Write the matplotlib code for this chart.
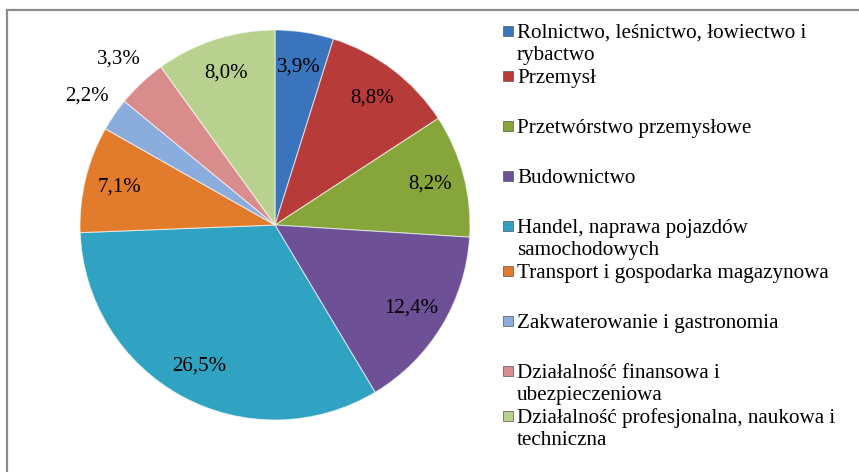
import matplotlib
matplotlib.use("Agg")
import matplotlib.pyplot as plt
import numpy as np
from matplotlib.patches import Rectangle

# Data
categories = [
    "Rolnictwo, leśnictwo, łowiectwo i\nrybactwo",
    "Przemysł",
    "Przetwórstwo przemysłowe",
    "Budownictwo",
    "Handel, naprawa pojazdów\nsamochodowych",
    "Transport i gospodarka magazynowa",
    "Zakwaterowanie i gastronomia",
    "Działalność finansowa i\nubezpieczeniowa",
    "Działalność profesjonalna, naukowa i\ntechniczna",
]
values = [3.9, 8.8, 8.2, 12.4, 26.5, 7.1, 2.2, 3.3, 8.0]
value_labels = ["3,9%", "8,8%", "8,2%", "12,4%", "26,5%", "7,1%", "2,2%", "3,3%", "8,0%"]

colors = ["#3a74bd", "#b73c39", "#86a63b", "#6d5096", "#30a3c2",
          "#e27b2b", "#8badde", "#d98c8c", "#b8d18e"]

W, H = 859, 472
plt.rcParams["font.family"] = ["Liberation Serif", "DejaVu Serif"]

fig = plt.figure(figsize=(W / 100, H / 100), dpi=100)

# chart frame (cut off at right / bottom like the source)
fig.patches.append(Rectangle((7 / W, -0.1), 1.0, 1 - 10 / H + 0.1,
                             transform=fig.transFigure, fill=False,
                             edgecolor="#8c8c8c", linewidth=1.6))

cx, cy, r = 275, 225, 195
ax = fig.add_axes([(cx - r) / W, (H - cy - r) / H, 2 * r / W, 2 * r / H])
wedges, _ = ax.pie(values, colors=colors, startangle=90, counterclock=False,
                   wedgeprops=dict(edgecolor=(1, 1, 1, 0.6), linewidth=0.8))
ax.set_xlim(-1, 1)
ax.set_ylim(-1, 1)
ax.axis("off")

for w, lab, v in zip(wedges, value_labels, values):
    ang = np.deg2rad((w.theta1 + w.theta2) / 2)
    dist = 1.17 if v < 3.5 else 0.82
    ax.text(dist * np.cos(ang), dist * np.sin(ang), lab,
            ha="center", va="center", fontsize=15, color="black")

# legend, Excel style: marker at the first line of each entry
y = 31
for lab, col in zip(categories, colors):
    fig.patches.append(Rectangle((503 / W, 1 - (y + 5) / H), 10 / W, 10 / H,
                                 transform=fig.transFigure, facecolor=col,
                                 edgecolor="#555555", linewidth=0.5))
    for k, line in enumerate(lab.split("\n")):
        fig.text(517 / W, 1 - (y + 7 + 22 * k) / H, line,
                 ha="left", va="baseline", fontsize=15.2)
    y += 45 if "\n" in lab else 50

fig.savefig("out.png", dpi=100)
